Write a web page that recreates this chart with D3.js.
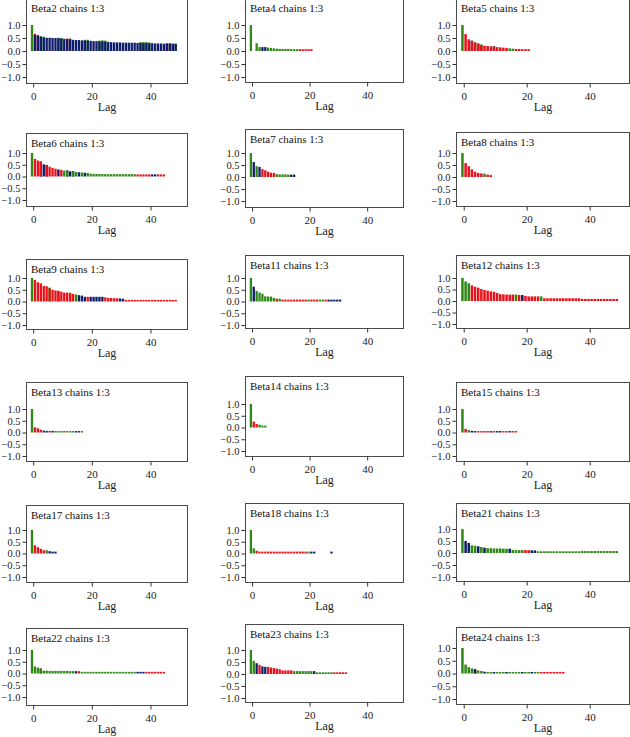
<!DOCTYPE html>
<html><head><meta charset="utf-8">
<script src="https://cdn.jsdelivr.net/npm/d3@7"></script>
<style>body{margin:0;background:#fff}svg{display:block}</style>
</head><body>
<script>
// ---------- DATA ----------
const panelNames = ["Beta2","Beta4","Beta5","Beta6","Beta7","Beta8","Beta9","Beta11","Beta12",
  "Beta13","Beta14","Beta15","Beta17","Beta18","Beta21","Beta22","Beta23","Beta24"];
const titleSuffix = " chains 1:3";
const xTicks = [0, 20, 40];
const yTicks = [1.0, 0.5, 0.0, -0.5, -1.0];
const yTickLabels = ["1.0", "0.5", "0.0", "\u22120.5", "\u22121.0"];
const xLabel = "Lag";

// autocorrelation of the front chain per lag (from lag 0) and which chain is in front
const beta2Acf = [1.0,0.62,0.58,0.55,0.52,0.51,0.51,0.5,0.5,0.49,0.48,0.47,0.46,0.45,0.43,0.42,0.42,0.41,0.4,0.4,0.39,0.38,0.38,0.37,0.37,0.36,0.35,0.34,0.33,0.33,0.33,0.32,0.32,0.32,0.32,0.32,0.31,0.31,0.31,0.31,0.3,0.3,0.29,0.29,0.29,0.28,0.28,0.28,0.27,0.27];
const beta2Chain = "G" + "N".repeat(49);
const beta2Peek = [[1,0.66,"R"],[2,0.62,"R"],[3,0.57,"G"],[4,0.55,"G"],[9,0.51,"G"],[10,0.5,"G"],[12,0.48,"R"],[13,0.48,"G"],[18,0.43,"G"],[19,0.43,"G"],[23,0.4,"G"],[24,0.41,"G"],[25,0.4,"G"],[37,0.34,"G"],[38,0.34,"G"],[39,0.34,"G"],[40,0.33,"G"],[46,0.3,"R"],[47,0.3,"R"],[48,0.29,"G"],[49,0.29,"G"]];

const beta4Acf = [1.0,0,0.3,0.15,0.15,0.15,0.13,0.12,0.1,0.09,0.08,0.08,0.08,0.08,0.07,0.07,0.07,0.07,0.07,0.07,0.07,0.07];
const beta4Chain = "GGGGNNGGGGGGGGGGGRRRRR";
const beta4Peek = [];

const beta5Acf = [1.0,0.65,0.45,0.38,0.32,0.27,0.23,0.2,0.19,0.18,0.17,0.15,0.14,0.13,0.12,0.1,0.09,0.08,0.08,0.07,0.07,0.07];
const beta5Chain = "GRRRRRRRRRRRRRRGGRRRRR";
const beta5Peek = [[3,0.4,"N"],[4,0.34,"G"],[5,0.29,"N"],[6,0.25,"G"],[10,0.18,"N"]];

const beta6Acf = [1.0,0.75,0.68,0.62,0.52,0.47,0.42,0.37,0.33,0.3,0.28,0.25,0.24,0.22,0.21,0.19,0.18,0.17,0.16,0.15,0.12,0.11,0.11,0.11,0.1,0.1,0.1,0.1,0.1,0.1,0.1,0.1,0.1,0.1,0.1,0.1,0.09,0.09,0.09,0.09,0.09,0.09,0.09,0.09,0.09,0.09];
const beta6Chain = "GRRRNRRRRNRGGNGGNGNG" + "G".repeat(16) + "RRRRR" + "NN" + "RRR";
const beta6Peek = [[3,0.64,"N"],[5,0.49,"N"],[12,0.26,"N"],[14,0.23,"N"]];

const beta7Acf = [1.0,0.62,0.45,0.42,0.33,0.28,0.22,0.18,0.17,0.12,0.11,0.11,0.11,0.1,0.1,0.1];
const beta7Chain = "GNGNRRRRRGGGGGNN";
const beta7Peek = [];

const beta8Acf = [1.0,0.58,0.45,0.32,0.22,0.17,0.15,0.14,0.1,0.08];
const beta8Chain = "GRRRRRRGRR";
const beta8Peek = [];

const beta9Acf = [1.0,0.92,0.82,0.77,0.66,0.65,0.56,0.5,0.47,0.44,0.42,0.38,0.38,0.35,0.32,0.3,0.27,0.25,0.2,0.2,0.2,0.2,0.2,0.2,0.2,0.18,0.15,0.15,0.14,0.14,0.13,0.12,0.07,0.07,0.07,0.07,0.07,0.07,0.07,0.07,0.07,0.07,0.07,0.07,0.07,0.07,0.07,0.07,0.07,0.07];
const beta9Chain = "G" + "R".repeat(14) + "G" + "NNN" + "R" + "NNNNN" + "RRRRR" + "NN" + "R".repeat(18);
const beta9Peek = [[6,0.59,"G"],[9,0.46,"G"],[13,0.37,"G"]];

const beta11Acf = [1.0,0.63,0.45,0.38,0.33,0.22,0.21,0.21,0.15,0.12,0.12,0.08,0.08,0.08,0.08,0.08,0.08,0.08,0.08,0.08,0.08,0.08,0.08,0.08,0.08,0.08,0.08,0.08,0.08,0.08,0.08,0.08];
const beta11Chain = "GNGGGGGGG" + "R" + "G" + "R".repeat(9) + "G" + "RRR" + "GG" + "R" + "NNNNN";
const beta11Peek = [];

const beta12Acf = [1.0,0.85,0.77,0.68,0.62,0.58,0.52,0.48,0.45,0.42,0.4,0.35,0.3,0.29,0.28,0.28,0.28,0.28,0.26,0.26,0.22,0.2,0.2,0.2,0.2,0.2,0.12,0.12,0.12,0.12,0.12,0.12,0.12,0.12,0.12,0.12,0.12,0.12,0.09,0.09,0.09,0.09,0.09,0.09,0.09,0.09,0.09,0.09,0.09,0.09];
const beta12Chain = "GGG" + "R".repeat(14) + "G" + "R" + "N" + "RRRRR" + "G" + "R".repeat(24);
const beta12Peek = [];

const beta13Acf = [1.0,0.22,0.18,0.12,0.08,0.07,0.07,0.07,0.06,0.06,0.06,0.06,0.06,0.06,0.06,0.06,0.06,0.06];
const beta13Chain = "GRRRNNRNGGGRGGGNNG";
const beta13Peek = [];

const beta14Acf = [1.0,0.25,0.15,0.12,0.08,0.08];
const beta14Chain = "GRRGGG";
const beta14Peek = [];

const beta15Acf = [1.0,0.15,0.1,0.07,0.06,0.06,0.06,0.06,0.06,0.06,0.06,0.06,0.06,0.06,0.06,0.06,0.06,0.06];
const beta15Chain = "GRGNNRRRRNRNNRRNRR";
const beta15Peek = [];

const beta17Acf = [1.0,0.35,0.27,0.2,0.14,0.14,0.1,0.08,0.08];
const beta17Chain = "GRRRRGNNN";
const beta17Peek = [];

const beta18Acf = [1.0,0.22,0.12,0.08,0.08,0.08,0.08,0.08,0.08,0.08,0.08,0.08,0.08,0.08,0.08,0.08,0.08,0.08,0.08,0.08,0.08,0.08,0.08,0,0,0,0,0,0.08];
const beta18Chain = "GGR" + "R".repeat(17) + "G" + "NN" + "NNNNN" + "N";
const beta18Peek = [];

const beta21Acf = [1.0,0.5,0.42,0.32,0.3,0.28,0.25,0.22,0.2,0.2,0.19,0.19,0.19,0.18,0.18,0.18,0.13,0.12,0.12,0.12,0.12,0.12,0.11,0.11,0.07,0.07,0.07,0.07,0.07,0.07,0.07,0.07,0.07,0.07,0.07,0.07,0.07,0.07,0.08,0.08,0.08,0.08,0.08,0.08,0.08,0.08,0.08,0.08,0.08,0.08];
const beta21Chain = "GNNGGNGN" + "GGGGGGG" + "N" + "GGGG" + "RR" + "NN" + "G".repeat(26);
const beta21Peek = [];

const beta22Acf = [1.0,0.3,0.25,0.2,0.12,0.12,0.11,0.11,0.11,0.11,0.11,0.11,0.11,0.1,0.1,0.1,0.1,0.07,0.07,0.07,0.07,0.07,0.07,0.07,0.07,0.07,0.07,0.07,0.07,0.07,0.07,0.07,0.07,0.07,0.07,0.07,0.07,0.07,0.07,0.07,0.07,0.07,0.07,0.07,0.07,0.07];
const beta22Chain = "GGGG" + "G".repeat(11) + "N" + "R" + "G".repeat(19) + "NNN" + "R".repeat(7);
const beta22Peek = [[3,0.22,"R"]];

const beta23Acf = [1.0,0.55,0.45,0.38,0.32,0.3,0.3,0.27,0.25,0.22,0.2,0.15,0.15,0.15,0.15,0.12,0.12,0.12,0.12,0.12,0.12,0.12,0.12,0.07,0.07,0.07,0.07,0.07,0.07,0.07,0.07,0.07,0.07,0.07];
const beta23Chain = "GGNRNNRRRRRRRRR" + "GGGGGGG" + "N" + "GGGGGG" + "RRRRR";
const beta23Peek = [];

const beta24Acf = [1.0,0.35,0.25,0.2,0.15,0.12,0.1,0.07,0.06,0.06,0.06,0.06,0.06,0.06,0.06,0.06,0.06,0.06,0.06,0.06,0.06,0.06,0.06,0.06,0.06,0.06,0.06,0.06,0.06,0.06,0.06,0.06,0.06];
const beta24Chain = "GGGGNGGN" + "GGNGGGNGGGGNGGNGG" + "R".repeat(8);
const beta24Peek = [[4,0.18,"R"]];

const acfList = [beta2Acf,beta4Acf,beta5Acf,beta6Acf,beta7Acf,beta8Acf,beta9Acf,beta11Acf,beta12Acf,
  beta13Acf,beta14Acf,beta15Acf,beta17Acf,beta18Acf,beta21Acf,beta22Acf,beta23Acf,beta24Acf];
const chainList = [beta2Chain,beta4Chain,beta5Chain,beta6Chain,beta7Chain,beta8Chain,beta9Chain,beta11Chain,beta12Chain,
  beta13Chain,beta14Chain,beta15Chain,beta17Chain,beta18Chain,beta21Chain,beta22Chain,beta23Chain,beta24Chain];
const peekList = [beta2Peek,beta4Peek,beta5Peek,beta6Peek,beta7Peek,beta8Peek,beta9Peek,beta11Peek,beta12Peek,
  beta13Peek,beta14Peek,beta15Peek,beta17Peek,beta18Peek,beta21Peek,beta22Peek,beta23Peek,beta24Peek];

// ---------- LAYOUT / STYLE ----------
const W = 630, H = 737;
const chainColor = {G: "#2e8a14", R: "#e5141c", N: "#0f1d6b"};
const colLeft = [26, 245, 456];
const colWidth = [162, 159, 174];
// per panel: frame top, frame bottom, pixel of +1, pixel of -1
const panelRows = [
  [-2, 83, 25, 77], [-2, 82, 25, 77], [-2, 83, 25, 77],
  [133, 206, 153, 200], [129, 207, 153, 201], [132, 206, 153, 201],
  [259, 329, 278, 325], [255, 328, 278, 325], [255, 328, 278, 324],
  [382, 461, 409, 456], [376, 456, 404, 451], [382, 461, 409, 456],
  [505, 582, 530, 577], [503, 582, 530, 577], [503, 581, 529, 577],
  [628, 705, 650, 697], [624, 702, 650, 698], [627, 704, 648, 699]
];
const xDomain = [-2.45, 52.8];
const font = "'Liberation Serif', 'DejaVu Serif', serif";

const svg = d3.select("body").append("svg").attr("width", W).attr("height", H)
  .style("font-family", font);

panelNames.forEach((name, i) => {
  const col = i % 3;
  const [top, bottom, yP1, yM1] = panelRows[i];
  const left = colLeft[col], width = colWidth[col];
  const x = d3.scaleLinear().domain(xDomain).range([left, left + width]);
  const y = d3.scaleLinear().domain([-1, 1]).range([yM1, yP1]);
  const step = x(1) - x(0);
  const g = svg.append("g");

  const bar = (lag, v, c) => {
    if (!v) return;
    g.append("rect")
      .attr("x", x(lag - 0.4) - step * 0.4)
      .attr("width", step * 0.8)
      .attr("y", y(v))
      .attr("height", Math.max(0, y(0) - y(v)))
      .attr("fill", chainColor[c]);
  };
  peekList[i].forEach(p => bar(p[0], p[1], p[2]));
  acfList[i].forEach((v, lag) => bar(lag, v, chainList[i][lag]));

  // frame
  g.append("rect").attr("x", left + 0.5).attr("y", top + 0.5)
    .attr("width", width - 1).attr("height", bottom - top)
    .attr("fill", "none").attr("stroke", "#4a4a4a").attr("stroke-width", 1);

  // y axis
  const yAxis = d3.axisLeft(y).tickValues(yTicks).tickSize(4).tickPadding(2)
    .tickFormat((d, k) => yTickLabels[k]);
  const ya = g.append("g").attr("transform", `translate(${left + 0.5},0)`).call(yAxis);
  ya.select(".domain").remove();
  ya.selectAll("line").attr("stroke", "#333");
  ya.selectAll("text").attr("font-size", 10.5).attr("fill", "#222").attr("font-family", font);

  // x axis
  const xAxis = d3.axisBottom(x).tickValues(xTicks).tickSize(4).tickPadding(5);
  const xa = g.append("g").attr("transform", `translate(0,${bottom + 0.5})`).call(xAxis);
  xa.select(".domain").remove();
  xa.selectAll("line").attr("stroke", "#333");
  xa.selectAll("text").attr("font-size", 11).attr("fill", "#222").attr("font-family", font);

  g.append("text").attr("x", left + width / 2).attr("y", bottom + 28)
    .attr("text-anchor", "middle").attr("font-size", 12).attr("fill", "#222")
    .text(xLabel);

  g.append("text").attr("x", left + 5).attr("y", top + 14)
    .attr("font-size", 11).attr("fill", "#111").text(name + titleSuffix);
});
</script>
</body></html>
